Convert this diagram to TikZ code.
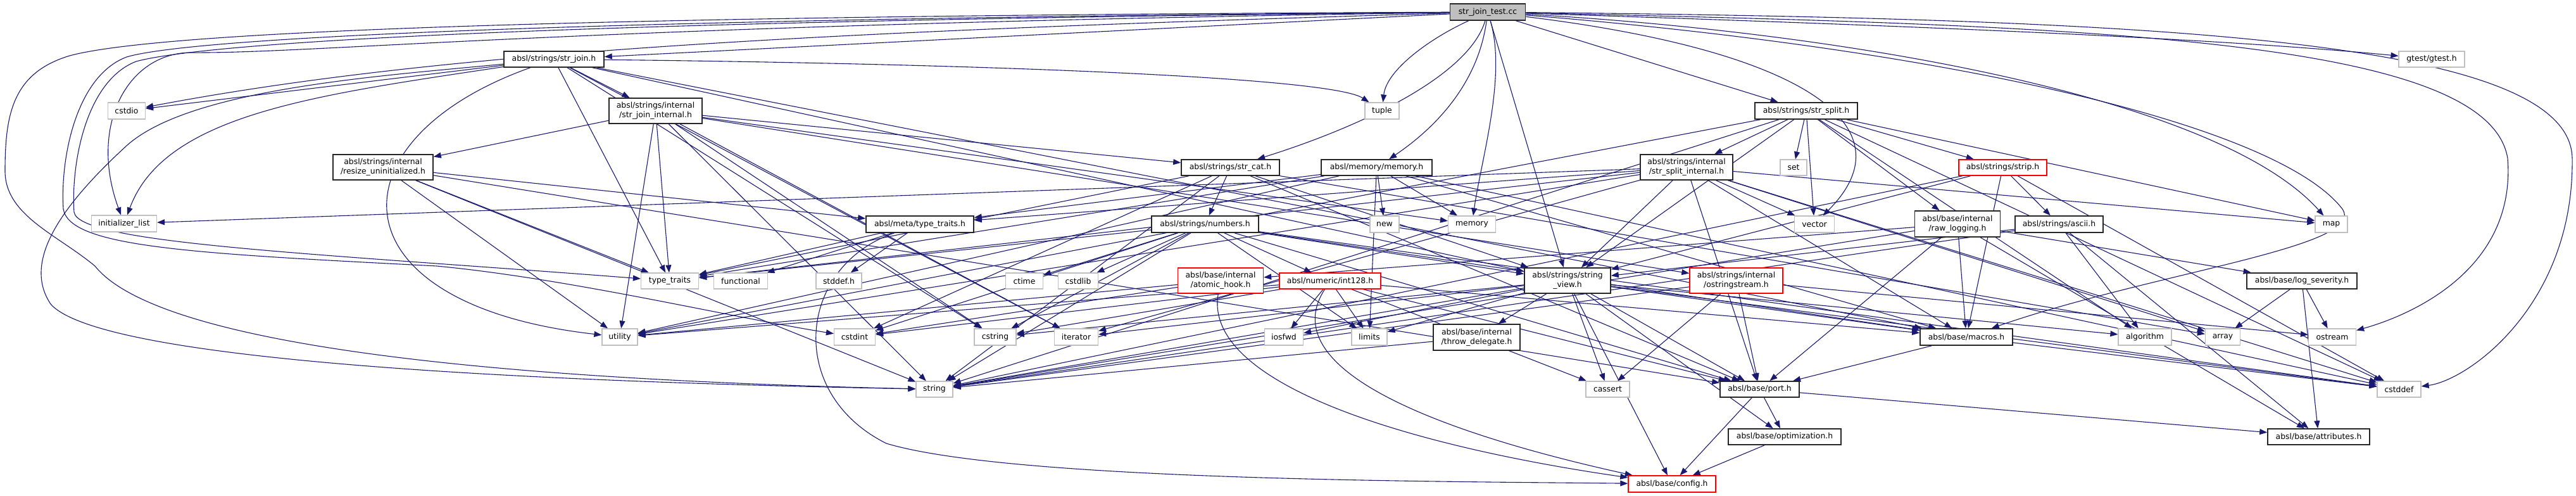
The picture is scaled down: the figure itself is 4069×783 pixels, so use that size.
\documentclass[tikz,border=0pt]{standalone}
\usepackage{fontspec}
\setmainfont{DejaVu Sans}
\usetikzlibrary{arrows.meta}
\definecolor{edgec}{HTML}{191970}
\definecolor{grayb}{HTML}{BFBFBF}
\definecolor{redb}{HTML}{FF0000}
\pgfdeclarelayer{bg}
\pgfsetlayers{bg,main}
\tikzset{
  nd/.style={rectangle, fill=white, inner sep=0pt, align=center,
    font=\fontsize{12.4}{15}\selectfont},
  blk/.style={nd, draw=black!85, line width=1.6pt},
  gry/.style={nd, draw=grayb, line width=1.2pt},
  trunc/.style={nd, draw=redb, line width=1.4pt},
  e/.style={draw=edgec, line width=1.1pt, -{Triangle[length=12pt,width=9pt]}},
}
\begin{document}
\begin{tikzpicture}[x=1pt,y=-1pt]
\useasboundingbox (0,0) rectangle (4069,783);
% nodes
\node[blk, fill=grayb, minimum width=119pt, minimum height=26pt] (root) at (2350,19) {str\_join\_test.cc};
\node[blk, minimum width=158pt, minimum height=25pt] (sjoin) at (875,93.5) {absl/strings/str\_join.h};
\node[blk, minimum width=147pt, minimum height=40pt] (sjoinint) at (1035.5,175) {absl/strings/internal\\/str\_join\_internal.h};
\node[gry, minimum width=59pt, minimum height=26pt] (cstdio) at (200,175) {cstdio};
\node[gry, minimum width=54pt, minimum height=26pt] (tuple) at (2183,175) {tuple};
\node[blk, minimum width=162pt, minimum height=26pt] (ssplit) at (2853,175) {absl/strings/str\_split.h};
\node[gry, minimum width=104pt, minimum height=25pt] (gtest) at (3841,93.5) {gtest/gtest.h};
\node[blk, minimum width=158pt, minimum height=40pt] (resize) at (605,264) {absl/strings/internal\\/resize\_uninitialized.h};
\node[blk, minimum width=155pt, minimum height=25pt] (strcat) at (1943.5,264.5) {absl/strings/str\_cat.h};
\node[blk, minimum width=175pt, minimum height=25pt] (memh) at (2174.5,264.5) {absl/memory/memory.h};
\node[blk, minimum width=146pt, minimum height=40pt] (ssplitint) at (2664,264) {absl/strings/internal\\/str\_split\_internal.h};
\node[gry, minimum width=42pt, minimum height=25pt] (set) at (2833,264.5) {set};
\node[trunc, minimum width=139pt, minimum height=25pt] (strip) at (3163.5,264.5) {absl/strings/strip.h};
\node[gry, minimum width=103pt, minimum height=26pt] (initlist) at (196,353) {initializer\_list};
\node[blk, minimum width=170pt, minimum height=26pt] (metatt) at (1453,354) {absl/meta/type\_traits.h};
\node[blk, minimum width=169pt, minimum height=26pt] (numbers) at (1903.5,354) {absl/strings/numbers.h};
\node[gry, minimum width=46pt, minimum height=26pt] (new) at (2187,354) {new};
\node[gry, minimum width=75pt, minimum height=26pt] (memory) at (2325,354) {memory};
\node[gry, minimum width=63pt, minimum height=26pt] (vector) at (2866,354) {vector};
\node[blk, minimum width=135pt, minimum height=41pt] (rawlog) at (3092,353.5) {absl/base/internal\\/raw\_logging.h};
\node[blk, minimum width=139pt, minimum height=26pt] (ascii) at (3252.5,354) {absl/strings/ascii.h};
\node[gry, minimum width=51pt, minimum height=26pt] (map) at (3682.5,354) {map};
\node[gry, minimum width=91pt, minimum height=25pt] (typetraits) at (1058,443.5) {type\_traits};
\node[gry, minimum width=85pt, minimum height=25pt] (functional) at (1170,443.5) {functional};
\node[gry, minimum width=72pt, minimum height=25pt] (stddef) at (1325,443.5) {stddef.h};
\node[gry, minimum width=59pt, minimum height=25pt] (ctime) at (1618,443.5) {ctime};
\node[gry, minimum width=63pt, minimum height=25pt] (cstdlib) at (1703,443.5) {cstdlib};
\node[trunc, minimum width=135pt, minimum height=40pt] (atomic) at (1928,443) {absl/base/internal\\/atomic\_hook.h};
\node[trunc, minimum width=160pt, minimum height=25pt] (int128) at (2101,443.5) {absl/numeric/int128.h};
\node[blk, minimum width=136pt, minimum height=40pt] (sview) at (2476,443) {absl/strings/string\\\_view.h};
\node[trunc, minimum width=147pt, minimum height=40pt] (ostrs) at (2742.5,443) {absl/strings/internal\\/ostringstream.h};
\node[blk, minimum width=174pt, minimum height=25pt] (logsev) at (3636,443.5) {absl/base/log\_severity.h};
\node[gry, minimum width=56pt, minimum height=26pt] (utility) at (979,532) {utility};
\node[gry, minimum width=65pt, minimum height=26pt] (cstdint) at (1350,532) {cstdint};
\node[gry, minimum width=66pt, minimum height=26pt] (cstring) at (1572,532) {cstring};
\node[gry, minimum width=69pt, minimum height=26pt] (iterator) at (1700,532) {iterator};
\node[gry, minimum width=61pt, minimum height=26pt] (iosfwd) at (2028,532) {iosfwd};
\node[gry, minimum width=56pt, minimum height=26pt] (limits) at (2163,532) {limits};
\node[blk, minimum width=137pt, minimum height=41pt] (throwd) at (2332.5,532.5) {absl/base/internal\\/throw\_delegate.h};
\node[blk, minimum width=146pt, minimum height=26pt] (macros) at (3106,532) {absl/base/macros.h};
\node[gry, minimum width=84pt, minimum height=26pt] (algorithm) at (3388,532) {algorithm};
\node[gry, minimum width=55pt, minimum height=26pt] (array) at (3511,532) {array};
\node[gry, minimum width=75pt, minimum height=26pt] (ostream) at (3684,532) {ostream};
\node[gry, minimum width=58pt, minimum height=25pt] (string) at (1476,614.5) {string};
\node[gry, minimum width=69pt, minimum height=25pt] (cassert) at (2539.5,614.5) {cassert};
\node[blk, minimum width=125pt, minimum height=25pt] (port) at (2779.5,614.5) {absl/base/port.h};
\node[gry, minimum width=69pt, minimum height=25pt] (cstddef) at (3789.5,614.5) {cstddef};
\node[blk, minimum width=178pt, minimum height=25pt] (optim) at (2819,689.5) {absl/base/optimization.h};
\node[blk, minimum width=161pt, minimum height=25pt] (attrs) at (3662.5,689.5) {absl/base/attributes.h};
\node[trunc, minimum width=138pt, minimum height=26pt] (config) at (2641,764) {absl/base/config.h};
% edges
\begin{pgfonlayer}{bg}
\foreach \a/\b in {root/sjoin, root/sview, root/ssplit,
  sjoin/cstdio, sjoin/cstring, sjoin/iterator, sjoin/typetraits, sjoin/macros, sjoin/sjoinint, sjoin/sview,
  sjoinint/cstring, sjoinint/iterator, sjoinint/memory, sjoinint/string, sjoinint/typetraits, sjoinint/utility, sjoinint/ostrs, sjoinint/resize, sjoinint/strcat,
  resize/string, resize/typetraits, resize/utility, resize/port, resize/metatt,
  strcat/array, strcat/cstdint, strcat/string, strcat/typetraits, strcat/port, strcat/numbers, strcat/sview,
  numbers/cstddef, numbers/cstdlib, numbers/cstring, numbers/ctime, numbers/limits, numbers/string, numbers/typetraits, numbers/macros, numbers/port, numbers/int128, numbers/sview, numbers/cstdint,
  metatt/stddef, metatt/functional, metatt/typetraits,
  int128/cassert, int128/cstdint, int128/cstring, int128/iosfwd, int128/limits, int128/utility, int128/macros, int128/port,
  atomic/cstdint, atomic/utility,
  memh/cstddef, memh/limits, memh/memory, memh/new, memh/typetraits, memh/utility, memh/macros, memh/metatt,
  ssplit/algorithm, ssplit/cstddef, ssplit/map, ssplit/set, ssplit/string, ssplit/utility, ssplit/vector, ssplit/rawlog, ssplit/ssplitint, ssplit/sview, ssplit/strip,
  ssplitint/array, ssplitint/initlist, ssplitint/iterator, ssplitint/map, ssplitint/typetraits, ssplitint/utility, ssplitint/vector, ssplitint/macros, ssplitint/port, ssplitint/metatt, ssplitint/sview, ssplitint/cstddef,
  strip/cstddef, strip/string, strip/macros, strip/ascii, strip/sview,
  ascii/algorithm, ascii/string, ascii/attrs, ascii/sview,
  rawlog/string, rawlog/attrs, rawlog/atomic, rawlog/logsev, rawlog/macros, rawlog/port,
  logsev/array, logsev/ostream, logsev/attrs,
  sview/algorithm, sview/cassert, sview/cstddef, sview/cstring, sview/iosfwd, sview/iterator, sview/limits, sview/string, sview/throwd, sview/macros, sview/optim, sview/port, sview/config,
  throwd/string, ostrs/cassert, ostrs/ostream, ostrs/string, ostrs/port,
  port/attrs, port/config, port/optim, optim/config, macros/cstddef, macros/port}
  \draw[e] (\a) -- (\b);
% curved root edges
\draw[e] (root) .. controls (900,25) and (250,50) .. (110,88) .. controls (20,115) and (8,180) .. (8,270) .. controls (8,340) and (90,370) .. (150,420) .. controls (230,520) and (600,595) .. (string);
\draw[e] (root) .. controls (900,30) and (300,60) .. (200,90) .. controls (120,120) and (95,250) .. (100,330) .. controls (110,390) and (300,400) .. (690,420) .. controls (900,440) and (1150,500) .. (cstdint);
\draw[e] (root) .. controls (900,33) and (330,66) .. (215,97) .. controls (135,128) and (112,260) .. (117,335) .. controls (125,385) and (500,400) .. (typetraits);
\draw[e] (root) .. controls (900,40) and (500,85) .. (300,83) .. controls (200,85) and (140,200) .. (initlist);
\draw[e] (root) .. controls (1300,50) and (700,80) .. (cstdio);
\draw[e] (root) .. controls (2260,60) and (2190,110) .. (tuple);
\draw[e] (root) .. controls (2320,120) and (2150,200) .. (strcat);
\draw[e] (root) .. controls (2335,130) and (2270,200) .. (memh);
\draw[e] (root) .. controls (2380,120) and (2340,250) .. (memory);
\draw[e] (root) .. controls (2850,80) and (3020,200) .. (vector);
\draw[e] (root) .. controls (2900,50) and (3500,150) .. (map);
\draw[e] (root) .. controls (3000,40) and (3500,60) .. (gtest);
\draw[e] (root) .. controls (3100,80) and (3600,200) .. (3700,330) .. controls (3740,390) and (3400,430) .. (macros);
\draw[e] (root) .. controls (3300,40) and (3930,60) .. (3961,250) .. controls (3975,430) and (3800,500) .. (ostream);
\draw[e] (root) .. controls (3400,30) and (4060,60) .. (4063,250) .. controls (4066,480) and (3900,600) .. (cstddef);
% curved str_join edges
\draw[e] (sjoin) .. controls (600,120) and (300,140) .. (200,230) .. controls (80,340) and (40,420) .. (80,480) .. controls (150,560) and (700,600) .. (string);
\draw[e] (sjoin) .. controls (500,150) and (260,180) .. (initlist);
\draw[e] (sjoin) .. controls (1500,100) and (2100,120) .. (tuple);
\draw[e] (sjoin) .. controls (520,220) and (520,480) .. (utility);
% long curves to config
\draw[e] (metatt) .. controls (1260,420) and (1240,620) .. (1400,700) .. controls (1600,760) and (2300,760) .. (config);
\draw[e] (atomic) .. controls (1900,600) and (2200,700) .. (config);
\draw[e] (int128) .. controls (2000,600) and (2350,700) .. (config);
\end{pgfonlayer}
\end{tikzpicture}
\end{document}
